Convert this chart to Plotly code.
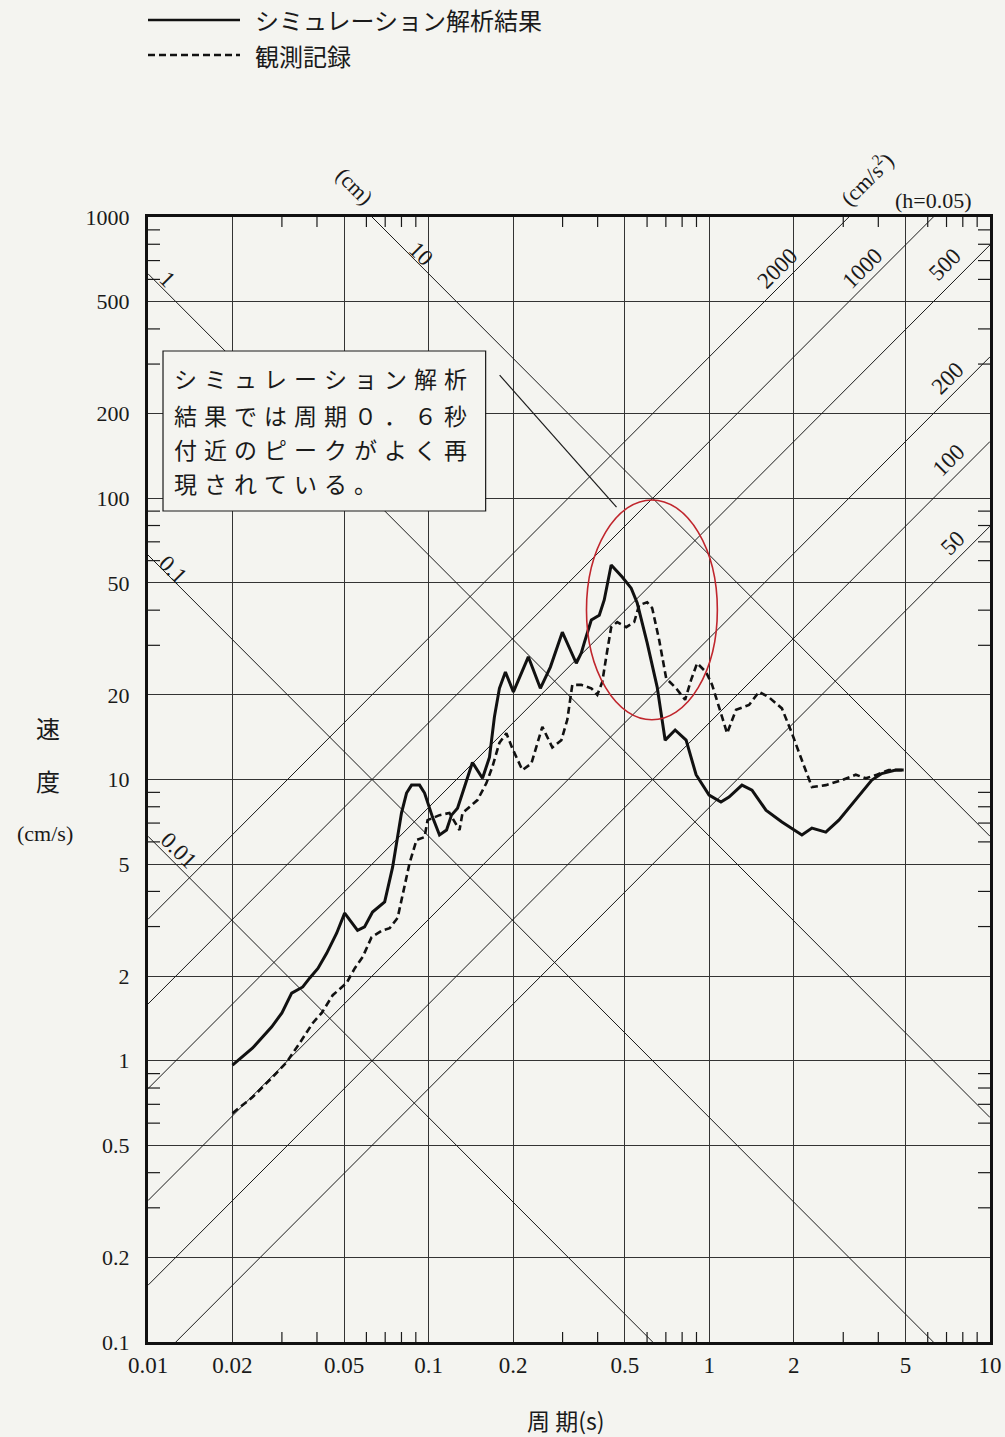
import math
import plotly.graph_objects as go

# ---- response spectra, h = 0.05 (period [s], velocity [cm/s]) ----
sim_period = [0.02, 0.0236, 0.0276, 0.030, 0.0325, 0.0356, 0.0377, 0.0403, 0.0433, 0.047,
              0.0502, 0.0558, 0.0591, 0.0631, 0.0697, 0.0726, 0.0744, 0.080, 0.0834, 0.0869,
              0.0928, 0.0967, 0.1032, 0.1093, 0.1158, 0.1206, 0.1267, 0.132, 0.1432, 0.1555,
              0.1647, 0.1715, 0.1787, 0.1877, 0.2004, 0.2265, 0.250, 0.2714, 0.2994, 0.3357,
              0.3498, 0.3584, 0.3797, 0.4054, 0.4222, 0.447, 0.4894, 0.5267, 0.5534, 0.6005,
              0.6519, 0.696, 0.7553, 0.8265, 0.897, 0.998, 1.10, 1.175, 1.307, 1.419,
              1.591, 1.814, 2.137, 2.32, 2.60, 2.893, 3.325, 3.792, 4.115, 4.615, 4.926]
sim_velocity = [0.965, 1.11, 1.32, 1.48, 1.74, 1.83, 1.97, 2.13, 2.41, 2.84,
                3.35, 2.91, 2.99, 3.38, 3.67, 4.39, 4.88, 7.60, 8.95, 9.55,
                9.55, 8.95, 7.35, 6.35, 6.61, 7.47, 7.91, 8.95, 11.5, 10.1,
                12.0, 16.7, 21.1, 24.1, 20.5, 27.3, 21.1, 25.1, 33.4, 25.9,
                28.2, 30.6, 36.9, 38.4, 43.5, 57.9, 52.5, 47.9, 42.4, 30.6,
                21.3, 13.8, 15.0, 13.8, 10.4, 8.80, 8.31, 8.66, 9.55, 9.17,
                7.78, 7.06, 6.35, 6.72, 6.50, 7.17, 8.45, 9.95, 10.5, 10.8, 10.8]

obs_period = [0.02, 0.0236, 0.0278, 0.0312, 0.0347, 0.0386, 0.0416, 0.0455, 0.051, 0.0545,
              0.0582, 0.0626, 0.0685, 0.0726, 0.0775, 0.0814, 0.0855, 0.0905, 0.0967, 0.0991,
              0.1093, 0.1186, 0.1288, 0.132, 0.1398, 0.1492, 0.1606, 0.1687, 0.1787, 0.1892,
              0.1987, 0.2157, 0.2322, 0.2541, 0.2758, 0.2970, 0.3118, 0.3249, 0.3498, 0.3797,
              0.3989, 0.4154, 0.4292, 0.447, 0.4696, 0.5057, 0.5399, 0.5623, 0.6005, 0.6257,
              0.6627, 0.7019, 0.7614, 0.8198, 0.861, 0.9045, 0.9736, 1.023, 1.110, 1.157,
              1.245, 1.385, 1.503, 1.631, 1.814, 1.969, 2.137, 2.32, 2.60, 2.966,
              3.325, 3.61, 3.95, 4.358, 4.85]
obs_velocity = [0.651, 0.743, 0.875, 0.989, 1.155, 1.36, 1.48, 1.71, 1.89, 2.13,
                2.34, 2.75, 2.91, 2.96, 3.22, 4.04, 5.04, 6.09, 6.24, 7.17,
                7.47, 7.60, 6.61, 7.60, 7.98, 8.45, 9.71, 11.1, 13.5, 14.6,
                12.9, 10.8, 11.4, 15.4, 13.0, 13.8, 16.3, 21.7, 21.7, 21.1,
                20.0, 22.2, 27.3, 34.8, 36.3, 34.8, 36.3, 41.7, 42.7, 40.7,
                31.3, 22.9, 21.1, 19.2, 22.6, 25.9, 24.1, 21.7, 16.7, 14.6,
                17.7, 18.4, 20.5, 19.6, 17.9, 14.6, 11.7, 9.40, 9.55, 9.95,
                10.4, 10.1, 10.4, 10.8, 10.8]

# ---- axes ----
x_ticks = [0.01, 0.02, 0.05, 0.1, 0.2, 0.5, 1, 2, 5, 10]
x_tick_text = ["0.01", "0.02", "0.05", "0.1", "0.2", "0.5", "1", "2", "5", "10"]
y_ticks = [0.1, 0.2, 0.5, 1, 2, 5, 10, 20, 50, 100, 200, 500, 1000]
y_tick_text = ["0.1", "0.2", "0.5", "1", "2", "5", "10", "20", "50", "100", "200", "500", "1000"]
x_minor = [0.03, 0.04, 0.06, 0.07, 0.08, 0.09, 0.3, 0.4, 0.6, 0.7, 0.8, 0.9, 3, 4, 6, 7, 8, 9]
y_minor = [0.3, 0.4, 0.6, 0.7, 0.8, 0.9, 3, 4, 6, 7, 8, 9,
           30, 40, 60, 70, 80, 90, 300, 400, 600, 700, 800, 900]

# tripartite guide lines
disp_lines = [0.01, 0.1, 1, 10]               # displacement, cm
acc_lines = [2000, 1000, 500, 200, 100, 50]   # acceleration, cm/s^2

# labels on the guide lines: (text, x px, y px)
disp_labels = [("1", 168, 279), ("10", 421, 253), ("0.1", 173, 569), ("0.01", 179, 850)]
acc_labels = [("2000", 777, 268), ("1000", 862, 268), ("500", 945, 265),
              ("200", 947, 378), ("100", 948, 460), ("50", 952, 543)]

note_lines = ["シミュレーション解析", "結果では周期０．６秒", "付近のピークがよく再", "現されている。"]

# ---- page geometry ----
W, H = 1005, 1437
ML, MR, MT, MB = 148, 15, 217, 95
PW, PH = W - ML - MR, H - MT - MB

BG = "#f4f4f0"
INK = "#1a1a1a"
SERIF = "Liberation Serif, DejaVu Serif, serif"
CJK = "Noto Sans CJK JP, sans-serif"


def px_x(px):
    return (px - ML) / PW


def px_y(py):
    return (H - MB - py) / PH


TMIN, TMAX = 0.01, 10.0

fig = go.Figure()

# displacement lines  V = 2*pi*D/T
for d in disp_lines:
    fig.add_trace(go.Scatter(
        x=[TMIN, TMAX], y=[2 * math.pi * d / TMIN, 2 * math.pi * d / TMAX],
        mode="lines", line=dict(color=INK, width=1), hoverinfo="skip", showlegend=False))

# acceleration lines  V = A*T/(2*pi)
for a in acc_lines:
    fig.add_trace(go.Scatter(
        x=[TMIN, TMAX], y=[a * TMIN / (2 * math.pi), a * TMAX / (2 * math.pi)],
        mode="lines", line=dict(color=INK, width=1), hoverinfo="skip", showlegend=False))

# spectra
fig.add_trace(go.Scatter(x=obs_period, y=obs_velocity, mode="lines", name="観測記録",
                         line=dict(color="#111", width=2.6, dash="7px,4px"), showlegend=False))
fig.add_trace(go.Scatter(x=sim_period, y=sim_velocity, mode="lines", name="シミュレーション解析結果",
                         line=dict(color="#111", width=3), showlegend=False))

shapes = []
# inside minor ticks on all four sides
for v in x_minor:
    shapes.append(dict(type="line", xref="x", yref="y domain", x0=v, x1=v, y0=0, y1=10 / PH,
                       line=dict(color=INK, width=1.2)))
    shapes.append(dict(type="line", xref="x", yref="y domain", x0=v, x1=v, y0=1, y1=1 - 10 / PH,
                       line=dict(color=INK, width=1.2)))
for v in y_minor:
    shapes.append(dict(type="line", xref="x domain", yref="y", x0=0, x1=12 / PW, y0=v, y1=v,
                       line=dict(color=INK, width=1.2)))
    shapes.append(dict(type="line", xref="x domain", yref="y", x0=1, x1=1 - 12 / PW, y0=v, y1=v,
                       line=dict(color=INK, width=1.2)))

# note box and its leader line
shapes.append(dict(type="rect", xref="x", yref="y", x0=0.01131, x1=0.1596, y0=90.1, y1=333.9,
                   fillcolor=BG, line=dict(color=INK, width=1.2), layer="above"))
shapes.append(dict(type="line", xref="x", yref="y", x0=0.179, y0=274, x1=0.467, y1=93,
                   line=dict(color=INK, width=1.2), layer="above"))
# highlight ellipse around the 0.6 s peak
shapes.append(dict(type="circle", xref="x", yref="y", x0=0.365, x1=1.068, y0=16.3, y1=98.6,
                   line=dict(color="#c0262d", width=1.6), layer="above"))

# legend lines above the chart
shapes.append(dict(type="line", xref="paper", yref="paper", x0=px_x(148), x1=px_x(240),
                   y0=px_y(20), y1=px_y(20), line=dict(color="#111", width=2.5)))
shapes.append(dict(type="line", xref="paper", yref="paper", x0=px_x(148), x1=px_x(240),
                   y0=px_y(55), y1=px_y(55), line=dict(color="#111", width=2.5, dash="7px,4px")))

ann = []


def text(s, px, py, size=22, family=SERIF, angle=0, xanchor="center", yanchor="middle"):
    ann.append(dict(text=s, x=px_x(px), y=px_y(py), xref="paper", yref="paper",
                    showarrow=False, textangle=angle, xanchor=xanchor, yanchor=yanchor,
                    font=dict(size=size, family=family, color=INK)))


for s, x, y in disp_labels:
    text(s, x, y, size=23, angle=45)
for s, x, y in acc_labels:
    text(s, x, y, size=23, angle=-45)
text("(cm)", 355, 186, size=22, angle=45)
text("(cm/s<sup>2</sup>)", 866, 178, size=22, angle=-45)
text("(h=0.05)", 933, 200, size=22)

# legend text
text("シミュレーション解析結果", 253, 20, size=24, family=CJK, xanchor="left")
text("観測記録", 253, 55, size=24, family=CJK, xanchor="left")

# note box text, one character per cell
line_y = [378, 415, 449, 483]
for row, line in enumerate(note_lines):
    for col, ch in enumerate(line):
        text(ch, 185 + col * 30, line_y[row], size=23, family=CJK)

# axis titles
text("速", 48, 727, size=24, family=CJK)
text("度", 48, 780, size=24, family=CJK)
text("(cm/s)", 45, 833, size=22)
text("周 期(s)", 565, 1420, size=23, family=CJK)

fig.update_layout(
    width=W, height=H,
    margin=dict(l=ML, r=MR, t=MT, b=MB, pad=0, autoexpand=False),
    paper_bgcolor=BG, plot_bgcolor=BG,
    shapes=shapes, annotations=ann,
    showlegend=False,
)
fig.update_xaxes(
    type="log", range=[math.log10(TMIN), math.log10(TMAX)], automargin=False,
    tickmode="array", tickvals=x_ticks, ticktext=x_tick_text,
    ticks="", showgrid=True, gridcolor="#333", gridwidth=1.2,
    showline=True, linecolor="#111", linewidth=3, mirror=True,
    tickfont=dict(family=SERIF, size=23, color=INK), ticklabelstandoff=0,
    zeroline=False,
)
fig.update_yaxes(
    type="log", range=[-1, 3], automargin=False,
    tickmode="array", tickvals=y_ticks, ticktext=y_tick_text,
    ticks="", showgrid=True, gridcolor="#333", gridwidth=1.2,
    showline=True, linecolor="#111", linewidth=3, mirror=True,
    tickfont=dict(family=SERIF, size=22, color=INK), ticklabelstandoff=11,
    zeroline=False,
)

fig.write_html("out.html")
